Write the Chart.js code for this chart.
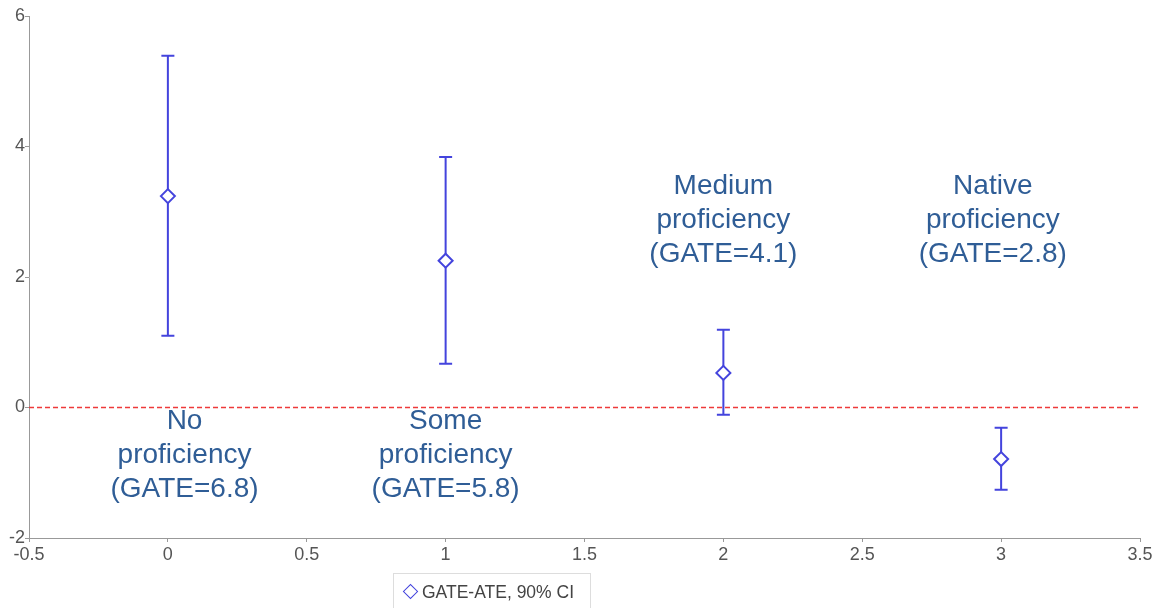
<!DOCTYPE html>
<html>
<head>
<meta charset="utf-8">
<script src="https://cdn.jsdelivr.net/npm/chart.js@4"></script>
<style>
  html, body { margin: 0; padding: 0; background: #fff; }
  #wrap { position: relative; width: 1160px; height: 608px; }
  #legend {
    position: absolute; left: 393px; top: 573px; width: 198px; height: 40px;
    border: 1px solid #ddd; box-sizing: border-box; white-space: nowrap;
    font: 17.5px "Liberation Sans", Arial, sans-serif; color: #444;
    padding: 8px 0 0 7px;
  }
  #legend span.m {
    display: inline-block; width: 9px; height: 9px; border: 1.5px solid #4444dd;
    transform: rotate(45deg); margin: 0 6px 0 4px; vertical-align: 1px;
  }
</style>
</head>
<body>
<div id="wrap">
  <canvas id="c" width="1160" height="608"></canvas>
  <div id="legend"><span class="m"></span>GATE-ATE, 90% CI</div>
</div>
<script>
const groups = [0, 1, 2, 3];
const gateAte = [3.24, 2.25, 0.53, -0.79];
const ciLow = [1.10, 0.67, -0.11, -1.26];
const ciHigh = [5.39, 3.84, 1.19, -0.31];
const xTicks = [-0.5, 0, 0.5, 1, 1.5, 2, 2.5, 3, 3.5];
const yTicks = [-2, 0, 2, 4, 6];
const labels = [
  ["No", "proficiency", "(GATE=6.8)"],
  ["Some", "proficiency", "(GATE=5.8)"],
  ["Medium", "proficiency", "(GATE=4.1)"],
  ["Native", "proficiency", "(GATE=2.8)"]
];
const labelAnchors = [[0.06, -0.207], [1.0, -0.207], [2.0, 3.395], [2.97, 3.395]];

const blue = "#4444dd";
const tickFont = { family: '"Liberation Sans", Arial, sans-serif', size: 18 };

const errorBars = {
  id: "errorBars",
  beforeDatasetsDraw(chart) {
    const { ctx, scales: { x, y } } = chart;
    ctx.save();
    ctx.strokeStyle = blue;
    ctx.lineWidth = 2;
    groups.forEach((g, i) => {
      const px = x.getPixelForValue(g);
      const lo = y.getPixelForValue(ciLow[i]);
      const hi = y.getPixelForValue(ciHigh[i]);
      ctx.beginPath();
      ctx.moveTo(px, lo); ctx.lineTo(px, hi);
      ctx.moveTo(px - 6.5, lo); ctx.lineTo(px + 6.5, lo);
      ctx.moveTo(px - 6.5, hi); ctx.lineTo(px + 6.5, hi);
      ctx.stroke();
    });
    ctx.restore();
  },
  afterDatasetsDraw(chart) {
    const { ctx, scales: { x, y } } = chart;
    ctx.save();
    ctx.fillStyle = "#2f5d96";
    ctx.font = '28px "Liberation Sans", Arial, sans-serif';
    ctx.textAlign = "center";
    ctx.textBaseline = "middle";
    labels.forEach((lines, i) => {
      const px = x.getPixelForValue(labelAnchors[i][0]);
      const py = y.getPixelForValue(labelAnchors[i][1]);
      lines.forEach((t, j) => ctx.fillText(t, px, py + j * 34));
    });
    ctx.restore();
  }
};

new Chart(document.getElementById("c"), {
  type: "scatter",
  data: {
    datasets: [
      {
        type: "line",
        data: [{ x: xTicks[0], y: 0 }, { x: xTicks[xTicks.length - 1], y: 0 }],
        borderColor: "#ee3a3a",
        borderWidth: 1.5,
        borderDash: [5, 3],
        pointRadius: 0,
        order: 2
      },
      {
        data: groups.map((g, i) => ({ x: g, y: gateAte[i] })),
        pointStyle: "rectRot",
        pointRadius: 7,
        pointBorderWidth: 2,
        pointBorderColor: blue,
        pointBackgroundColor: "#fff",
        order: 1
      }
    ]
  },
  options: {
    responsive: false,
    animation: false,
    layout: { padding: { top: 16, right: 20, left: 0, bottom: 0 } },
    plugins: { legend: { display: false }, tooltip: { enabled: false } },
    scales: {
      x: {
        type: "linear",
        min: -0.5, max: 3.5,
        afterBuildTicks: s => { s.ticks = xTicks.map(v => ({ value: v })); },
        afterFit: s => { s.height = 70; },
        grid: { drawOnChartArea: false, drawTicks: true, tickLength: 4, color: "#999" },
        border: { color: "#999", width: 1 },
        ticks: { callback: v => String(v), color: "#555", padding: 2, font: tickFont }
      },
      y: {
        min: -2, max: 6,
        afterBuildTicks: s => { s.ticks = yTicks.map(v => ({ value: v })); },
        afterFit: s => { s.width = 29; },
        grid: { drawOnChartArea: false, drawTicks: true, tickLength: 4, color: "#999" },
        border: { color: "#999", width: 1 },
        ticks: { callback: v => String(v), color: "#555", padding: 0, font: tickFont }
      }
    }
  },
  plugins: [errorBars]
});
</script>
</body>
</html>
